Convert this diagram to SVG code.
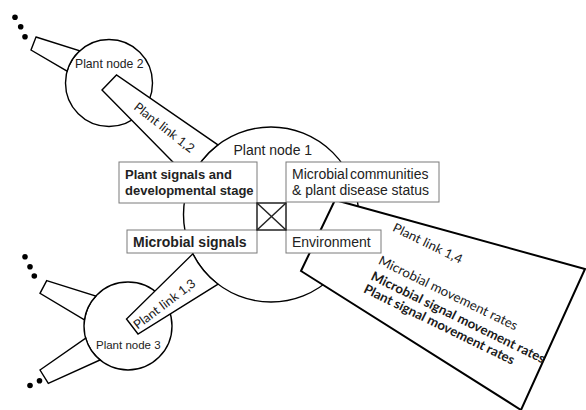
<svg xmlns="http://www.w3.org/2000/svg" width="586" height="410" viewBox="0 0 586 410">
<style>
.node{fill:#fff;stroke:#000;stroke-width:1.4}
.link{fill:#fff;stroke:#000;stroke-width:1.4;stroke-linejoin:miter}
.link14{fill:#fff;stroke:#000;stroke-width:2}
.dot{fill:#000}
.box{fill:#fff;stroke:#7a7a7a;stroke-width:1}
.cross{fill:#fff;stroke:#222;stroke-width:1.5}
.cross-l{stroke:#222;stroke-width:1.5}
.lbl{font-family:"Liberation Sans",Arial,sans-serif;fill:#222}
.b{font-weight:bold}
.cal{font-family:Lato,"Open Sans",sans-serif;fill:#1a1a1a}
</style>
<rect width="586" height="410" fill="#fff"/>
<g id="node2">
  <circle class="node" cx="109" cy="83" r="43.5"/>
  <text class="lbl" x="75" y="68" font-size="12.2">Plant node 2</text>
</g>
<g id="node3">
  <circle class="node" cx="128" cy="326" r="44"/>
  <text class="lbl" x="96" y="349" font-size="11.5">Plant node 3</text>
</g>
<g id="node1">
  <circle class="node" cx="271" cy="214.5" r="87.5"/>
  <text class="lbl" x="233.5" y="155" font-size="14">Plant node 1</text>
</g>
<g id="connectors">
  <path class="link" d="M36 37 L79.7 50.8 A43.5 43.5 0 0 0 67.1 71.2 L31 50 Z"/>
  <path class="link" d="M46.7 280.7 L95.9 296 A44 44 0 0 0 84.4 319.9 L40 293.3 Z"/>
  <path class="link" d="M40 370 L85.7 338.1 A44 44 0 0 0 100 360 L48.3 383.3 Z"/>
  <circle class="dot" cx="15" cy="17.3" r="2.8"/>
  <circle class="dot" cx="20.7" cy="26.7" r="2.8"/>
  <circle class="dot" cx="25" cy="36.7" r="2.8"/>
  <circle class="dot" cx="25" cy="256.7" r="2.8"/>
  <circle class="dot" cx="30" cy="266.7" r="2.8"/>
  <circle class="dot" cx="34.3" cy="276" r="2.8"/>
  <circle class="dot" cx="30" cy="385.5" r="2.8"/>
  <circle class="dot" cx="39.5" cy="380.7" r="2.8"/>
  <g id="link-1-2">
    <path class="link" d="M102 90 L116.5 75 L217.9 144.9 A87.5 87.5 0 0 0 190.6 179.9 Z"/>
    <text class="cal" transform="translate(164.3,127.5) rotate(38)" y="4.3" text-anchor="middle" font-size="12.5" textLength="73" lengthAdjust="spacingAndGlyphs">Plant link 1,2</text>
  </g>
  <g id="link-1-3">
    <path class="link" d="M138 334 L126.5 319 L192.85 253.87 A87.5 87.5 0 0 0 218.05 284.2 Z"/>
    <text class="cal" transform="translate(164.5,304) rotate(-37)" y="4.3" text-anchor="middle" font-size="12.5" textLength="74" lengthAdjust="spacingAndGlyphs">Plant link 1,3</text>
  </g>
  <g id="link-1-4">
    <polygon class="link14" points="335,200 585,269 521,410 301,271"/>
    <text class="cal" transform="translate(391.7,230.5) rotate(26)" font-size="12.5" textLength="76" lengthAdjust="spacingAndGlyphs">Plant link 1,4</text>
    <text class="cal" transform="translate(377.5,263.5) rotate(26)" font-size="13" textLength="153" lengthAdjust="spacingAndGlyphs">Microbial movement rates</text>
    <text class="cal b" transform="translate(370,279.3) rotate(26)" font-size="13" textLength="192" lengthAdjust="spacingAndGlyphs">Microbial signal movement rates</text>
    <text class="cal b" transform="translate(362.7,292) rotate(26)" font-size="13" textLength="166" lengthAdjust="spacingAndGlyphs">Plant signal movement rates</text>
  </g>
</g>
<g id="node1-states">
  <rect class="box" x="119" y="162" width="138" height="41"/>
  <text class="lbl b" x="125" y="178.5" font-size="13">Plant signals and</text>
  <text class="lbl b" x="125" y="194.5" font-size="13">developmental stage</text>
  <rect class="box" x="286" y="162" width="153" height="40"/>
  <text class="lbl" x="292" y="178.5" font-size="14" word-spacing="-2">Microbial communities</text>
  <text class="lbl" x="292" y="194.5" font-size="14">&amp; plant disease status</text>
  <rect class="box" x="127" y="230" width="130" height="23"/>
  <text class="lbl b" x="133" y="247" font-size="14">Microbial signals</text>
  <rect class="box" x="286" y="230" width="95" height="23"/>
  <text class="lbl" x="292" y="247" font-size="14">Environment</text>
  <rect class="cross" x="257" y="203" width="29" height="27"/>
  <line class="cross-l" x1="257" y1="203" x2="286" y2="230"/>
  <line class="cross-l" x1="286" y1="203" x2="257" y2="230"/>
</g>
</svg>
